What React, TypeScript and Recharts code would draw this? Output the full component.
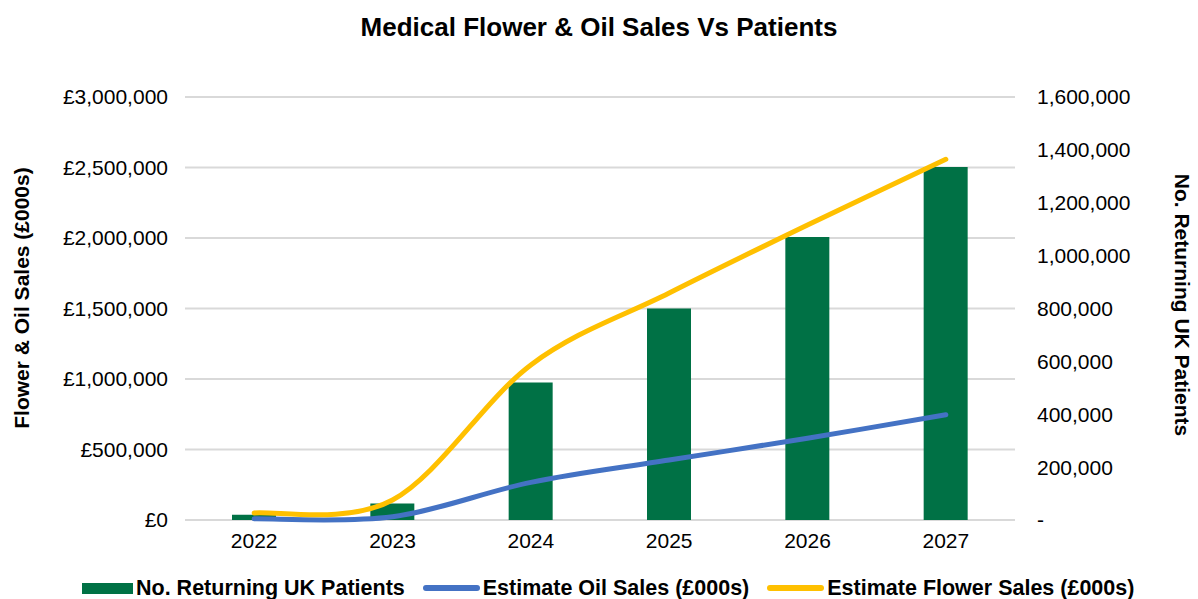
import {
  ComposedChart,
  Bar,
  Line,
  CartesianGrid,
  XAxis,
  YAxis,
} from 'recharts'

const YEARS = ['2022', '2023', '2024', '2025', '2026', '2027']
const PATIENTS = [20000, 62000, 520000, 800000, 1070000, 1335000]
const OIL_SALES = [8000, 23000, 267000, 425000, 580000, 747000]
const FLOWER_SALES = [50000, 142000, 1100000, 1610000, 2092000, 2558000]

const LEFT_TICKS = [0, 500000, 1000000, 1500000, 2000000, 2500000, 3000000]
const RIGHT_TICKS = [0, 200000, 400000, 600000, 800000, 1000000, 1200000, 1400000, 1600000]

const SERIES_NAMES = [
  'No. Returning UK Patients',
  'Estimate Oil Sales (£000s)',
  'Estimate Flower Sales (£000s)',
]

const GREEN = '#007145'
const BLUE = '#4472C4'
const YELLOW = '#FFC000'
const FONT = '"Liberation Sans", Arial, Helvetica, sans-serif'

const data = YEARS.map((year, i) => ({
  year,
  patients: PATIENTS[i],
  oil: OIL_SALES[i],
  flower: FLOWER_SALES[i],
}))

// Excel style smoothed line (Catmull-Rom)
const excelSmooth = (context: any) => {
  let pts: [number, number][] = []
  return {
    areaStart() {},
    areaEnd() {},
    lineStart() {
      pts = []
    },
    point(x: number, y: number) {
      pts.push([+x, +y])
    },
    lineEnd() {
      const n = pts.length
      if (!n) return
      context.moveTo(pts[0][0], pts[0][1])
      for (let i = 0; i < n - 1; i++) {
        const p0 = pts[Math.max(i - 1, 0)]
        const p1 = pts[i]
        const p2 = pts[i + 1]
        const p3 = pts[Math.min(i + 2, n - 1)]
        context.bezierCurveTo(
          p1[0] + (p2[0] - p0[0]) / 6,
          p1[1] + (p2[1] - p0[1]) / 6,
          p2[0] - (p3[0] - p1[0]) / 6,
          p2[1] - (p3[1] - p1[1]) / 6,
          p2[0],
          p2[1]
        )
      }
    },
  }
}

const tickStyle = { fill: '#000', fontSize: 21, fontFamily: FONT }

const App = () => {
  return (
    <div
      style={{
        position: 'absolute',
        left: 0,
        top: 0,
        width: 1198,
        height: 599,
        background: '#fff',
        fontFamily: FONT,
      }}
    >
      <div
        style={{
          position: 'absolute',
          top: 11,
          width: '100%',
          textAlign: 'center',
          fontSize: 26,
          fontWeight: 'bold',
          lineHeight: '32px',
        }}
      >
        Medical Flower &amp; Oil Sales Vs Patients
      </div>

      <ComposedChart
        width={1198}
        height={599}
        data={data}
        margin={{ top: 97, right: 0, bottom: 49, left: 0 }}
      >
        <CartesianGrid yAxisId="left" vertical={false} stroke="#d9d9d9" strokeWidth={2} />
        <XAxis
          dataKey="year"
          axisLine={false}
          tickLine={false}
          tickSize={0}
          tickMargin={13}
          height={30}
          tick={tickStyle}
        />
        <YAxis
          yAxisId="left"
          orientation="left"
          width={185}
          domain={[0, 3000000]}
          ticks={LEFT_TICKS}
          axisLine={false}
          tickLine={false}
          tickSize={0}
          tickMargin={17}
          tick={tickStyle}
          tickFormatter={(v) => `£${Number(v).toLocaleString('en-GB')}`}
        />
        <YAxis
          yAxisId="right"
          orientation="right"
          width={183}
          domain={[0, 1600000]}
          ticks={RIGHT_TICKS}
          axisLine={false}
          tickLine={false}
          tickSize={0}
          tickMargin={22}
          tick={tickStyle}
          tickFormatter={(v) => (v === 0 ? '-' : Number(v).toLocaleString('en-GB'))}
        />
        <Bar
          yAxisId="right"
          dataKey="patients"
          name={SERIES_NAMES[0]}
          fill={GREEN}
          barSize={44}
          isAnimationActive={false}
        />
        <Line
          yAxisId="left"
          dataKey="oil"
          name={SERIES_NAMES[1]}
          type={excelSmooth as any}
          stroke={BLUE}
          strokeWidth={5}
          strokeLinecap="round"
          dot={false}
          activeDot={false}
          isAnimationActive={false}
        />
        <Line
          yAxisId="left"
          dataKey="flower"
          name={SERIES_NAMES[2]}
          type={excelSmooth as any}
          stroke={YELLOW}
          strokeWidth={5}
          strokeLinecap="round"
          dot={false}
          activeDot={false}
          isAnimationActive={false}
        />
      </ComposedChart>

      {/* axis titles */}
      <div
        style={{
          position: 'absolute',
          left: 22,
          top: 298,
          transform: 'translate(-50%, -50%) rotate(-90deg)',
          whiteSpace: 'nowrap',
          fontSize: 21,
          fontWeight: 'bold',
        }}
      >
        Flower &amp; Oil Sales (£000s)
      </div>
      <div
        style={{
          position: 'absolute',
          left: 1182,
          top: 305,
          transform: 'translate(-50%, -50%) rotate(90deg)',
          whiteSpace: 'nowrap',
          fontSize: 21,
          fontWeight: 'bold',
        }}
      >
        No. Returning UK Patients
      </div>

      {/* legend */}
      <div
        style={{
          position: 'absolute',
          left: 82,
          top: 575,
          height: 26,
          display: 'flex',
          alignItems: 'center',
          fontSize: 21.5,
          fontWeight: 'bold',
          whiteSpace: 'nowrap',
        }}
      >
        <span style={{ display: 'inline-block', width: 51, height: 11, background: GREEN, marginRight: 3 }} />
        <span style={{ marginRight: 18 }}>{SERIES_NAMES[0]}</span>
        <span style={{ display: 'inline-block', width: 57, height: 6, borderRadius: 3, background: BLUE, marginRight: 3 }} />
        <span style={{ marginRight: 18 }}>{SERIES_NAMES[1]}</span>
        <span style={{ display: 'inline-block', width: 57, height: 6, borderRadius: 3, background: YELLOW, marginRight: 3 }} />
        <span>{SERIES_NAMES[2]}</span>
      </div>
    </div>
  )
}

export default App
